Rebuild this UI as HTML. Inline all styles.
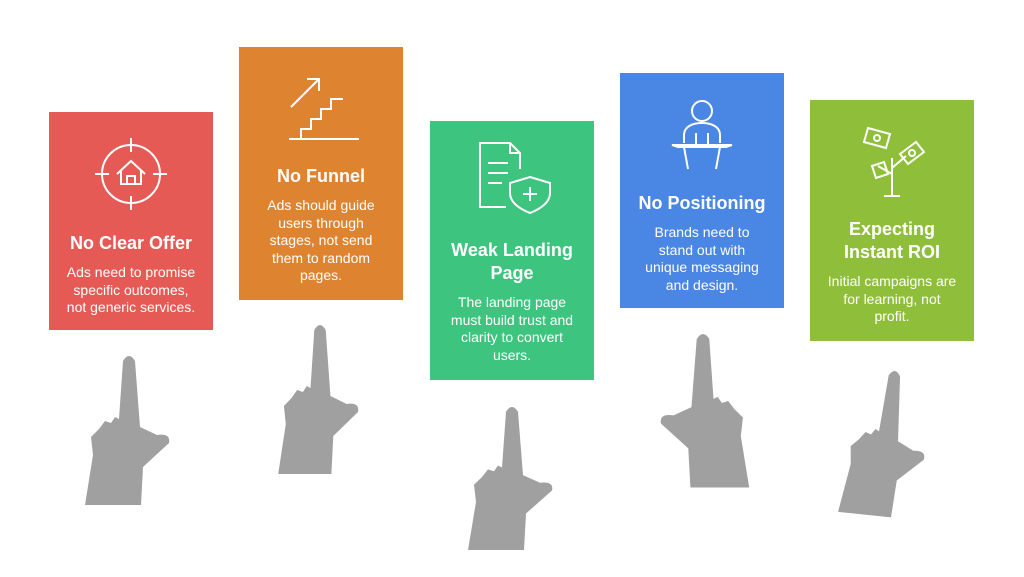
<!DOCTYPE html>
<html><head><meta charset="utf-8"><style>
body{margin:0;width:1024px;height:577px;background:#fff;position:relative;overflow:hidden;font-family:"Liberation Sans",Arial,sans-serif}
.c{position:absolute;width:164px;color:#fff;text-align:center;box-sizing:border-box;padding:0}
.c h3{margin:0;font-size:18px;font-weight:bold;line-height:23px}
.c p{margin:9px 0 0;font-size:14px;line-height:17.5px;white-space:nowrap}
.c svg{display:block;margin:0 auto}
</style></head><body>
<div class="c" style="left:49px;top:112px;height:218px;background:#E55A54">
<svg width="80" height="80" style="margin-top:22px" viewBox="0 0 80 80" fill="none" stroke="#fff" stroke-width="2"><circle cx="40" cy="40" r="29"/><path d="M40 4v14M40 62v14M4 40h14M62 40h14M26 40l14-13 14 13M30 37v13h20V37M36 50v-8h8v8"/></svg>
<h3 style="margin-top:18px">No Clear Offer</h3>
<p>Ads need to promise<br>specific outcomes,<br>not generic services.</p></div>
<div class="c" style="left:239px;top:47px;height:253px;background:#DE8430">
<svg width="80" height="80" style="margin-top:16px" viewBox="0 0 80 80" fill="none" stroke="#fff" stroke-width="2"><path d="M8 76h70M20 76V66h10V56h10V46h10V36h12M10 44l28-28M26 16h12v12"/></svg>
<h3 style="margin-top:22px">No Funnel</h3>
<p>Ads should guide<br>users through<br>stages, not send<br>them to random<br>pages.</p></div>
<div class="c" style="left:430px;top:121px;height:259px;background:#3DC47E">
<svg width="80" height="80" style="margin-top:18px" viewBox="0 0 80 80" fill="none" stroke="#fff" stroke-width="2"><path d="M48 30V14L38 4H8v64h26M38 4v10h10M16 24h20M16 34h20M16 44h14M58 38l20 6v10c0 10-10 16-20 20-10-4-20-10-20-20V44zM58 48v14M51 55h14"/></svg>
<h3 style="margin-top:20px">Weak Landing<br>Page</h3>
<p>The landing page<br>must build trust and<br>clarity to convert<br>users.</p></div>
<div class="c" style="left:620px;top:73px;height:235px;background:#4A86E4">
<svg width="80" height="80" style="margin-top:18px" viewBox="0 0 80 80" fill="none" stroke="#fff" stroke-width="2"><circle cx="40" cy="20" r="10"/><path d="M22 52v-8c0-8 8-12 18-12s18 4 18 12v8M10 54h60l-6 2H16zM22 56l4 22M58 56l-4 22M34 54v-12M46 54v-12"/></svg>
<h3 style="margin-top:21px">No Positioning</h3>
<p>Brands need to<br>stand out with<br>unique messaging<br>and design.</p></div>
<div class="c" style="left:810px;top:100px;height:241px;background:#8FBF3A">
<svg width="80" height="80" style="margin-top:18px" viewBox="0 0 80 80" fill="none" stroke="#fff" stroke-width="2"><path d="M40 78V40M32 78h16M40 56l-14-8M40 50l14-12M16 10l22 6-4 14-22-6zM48 36l16-12 8 10-16 12zM20 48l12-4 4 12-12 4z"/><circle cx="25" cy="20" r="3"/><circle cx="60" cy="35" r="3"/></svg>
<h3 style="margin-top:20px">Expecting<br>Instant ROI</h3>
<p>Initial campaigns are<br>for learning, not<br>profit.</p></div>
<svg width="1024" height="577" style="position:absolute;left:0;top:0" fill="#A0A0A0">
<defs><path id="h" d="M-6 6Q0-4 6 6L11 72L28 80Q42 78 40 88L14 112L12 150L-44 150L-36 100L-38 82L-30 74L-24 66L-18 68L-14 62L-10 64Z"/></defs>
<use href="#h" transform="translate(129,355)"/>
<use href="#h" transform="translate(320,324) scale(0.95,1)"/>
<use href="#h" transform="translate(512,406) scale(1,0.96)"/>
<use href="#h" transform="translate(703,333) scale(-1.05,1.03)"/>
<use href="#h" transform="translate(895,370) rotate(6) scale(0.95,0.98)"/>
</svg>
</body></html>
